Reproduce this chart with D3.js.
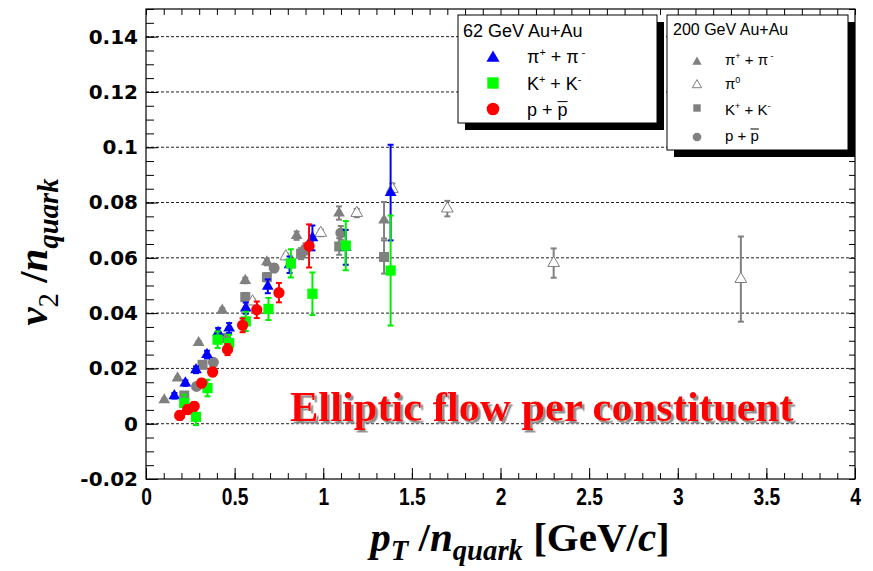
<!DOCTYPE html>
<html><head><meta charset="utf-8">
<script src="https://cdn.jsdelivr.net/npm/d3@7/dist/d3.min.js"></script>
<style>body{margin:0;background:#fff} svg{display:block}</style>
</head><body>
<svg id="c" width="873" height="571"></svg>
<script>
// ---------------- data ----------------
const xTicks = [0, 0.5, 1, 1.5, 2, 2.5, 3, 3.5, 4];
const xTickLabels = ["0", "0.5", "1", "1.5", "2", "2.5", "3", "3.5", "4"];
const yTicks = [-0.02, 0, 0.02, 0.04, 0.06, 0.08, 0.1, 0.12, 0.14];
const yTickLabels = ["-0.02", "0", "0.02", "0.04", "0.06", "0.08", "0.1", "0.12", "0.14"];

// 62 GeV Au+Au
const pi62X = [0.16, 0.222, 0.282, 0.344, 0.407, 0.469, 0.563, 0.687, 0.81, 0.939, 1.127, 1.38];
const pi62Y = [0.0101, 0.0147, 0.0195, 0.025, 0.033, 0.0346, 0.0418, 0.0497, 0.0575, 0.0672, 0.0638, 0.0836];
const pi62E = [0.001, 0.001, 0.0012, 0.0014, 0.0016, 0.0018, 0.002, 0.0025, 0.003, 0.0045, 0.0063, 0.0173];

const k62X = [0.216, 0.282, 0.347, 0.404, 0.469, 0.563, 0.691, 0.817, 0.939, 1.127, 1.38];
const k62Y = [0.0075, 0.0025, 0.0129, 0.0304, 0.0292, 0.037, 0.0415, 0.058, 0.047, 0.0644, 0.0554];
const k62E = [0.003, 0.003, 0.003, 0.003, 0.003, 0.0035, 0.004, 0.0051, 0.0077, 0.0089, 0.0199];

const p62X = [0.19, 0.235, 0.272, 0.314, 0.376, 0.46, 0.545, 0.625, 0.75, 0.92];
const p62Y = [0.003, 0.0051, 0.0063, 0.0147, 0.0187, 0.0268, 0.0356, 0.0412, 0.0474, 0.0643];
const p62E = [0.0015, 0.0015, 0.0015, 0.0015, 0.0015, 0.002, 0.0025, 0.003, 0.0035, 0.0078];

// 200 GeV Au+Au
const pi200X = [0.103, 0.178, 0.297, 0.43, 0.56, 0.682, 0.85, 1.089, 1.343];
const pi200Y = [0.0086, 0.0165, 0.0293, 0.041, 0.0518, 0.0585, 0.068, 0.0762, 0.0736];
const pi200E = [0.0005, 0.0005, 0.0006, 0.0008, 0.001, 0.0012, 0.0015, 0.0024, 0.0066];

const pi0X = [0.601, 0.789, 0.986, 1.189, 1.39, 1.70, 2.30, 3.356];
const pi0Y = [0.0442, 0.0605, 0.069, 0.0762, 0.0849, 0.0778, 0.0581, 0.0523];
const pi0E = [0.001, 0.001, 0.0012, 0.0015, 0.002, 0.0028, 0.0053, 0.0154];

const k200X = [0.216, 0.319, 0.44, 0.56, 0.682, 0.875, 1.09, 1.343];
const k200Y = [0.0102, 0.0213, 0.031, 0.0458, 0.053, 0.0615, 0.0641, 0.0603];
const k200E = [0.001, 0.001, 0.0012, 0.0015, 0.0015, 0.002, 0.003, 0.006];

const p200X = [0.285, 0.38, 0.45, 0.723, 0.9, 1.099];
const p200Y = [0.0135, 0.0222, 0.031, 0.0563, 0.0632, 0.069];
const p200E = [0.001, 0.001, 0.0012, 0.0015, 0.002, 0.0025];

// ---------------- chart ----------------
const svg = d3.select("#c");
const x = d3.scaleLinear().domain([0, 4]).range([146, 855]);
const y = d3.scaleLinear().domain([-0.02, 0.15]).range([479, 9]);
const GRAY = "#808080";

const defs = svg.append("defs");
const flt = defs.append("filter").attr("id", "shadow").attr("x", "-5%").attr("y", "-20%").attr("width", "110%").attr("height", "140%");
flt.append("feDropShadow").attr("dx", 2.5).attr("dy", 2.5).attr("stdDeviation", 0.6)
  .attr("flood-color", "#909090").attr("flood-opacity", 1);

svg.append("rect").attr("width", 873).attr("height", 571).attr("fill", "#fff");

// grid
svg.append("g").selectAll("line").data(yTicks.filter(d => d > -0.02)).join("line")
  .attr("x1", x(0)).attr("x2", x(4))
  .attr("y1", d => y(d)).attr("y2", d => y(d))
  .attr("stroke", "#222").attr("stroke-width", 1).attr("stroke-dasharray", "3,2");

// axes
const yMinor = d3.range(0, 35).map(i => -0.02 + i * 0.005);
const xMinor = d3.range(0, 41).map(i => i * 0.1);

const gyMinor = svg.append("g").attr("transform", `translate(${x(0)},0)`)
  .call(d3.axisLeft(y).tickValues(yMinor).tickSize(-8).tickFormat(""));
const gy = svg.append("g").attr("transform", `translate(${x(0)},0)`)
  .call(d3.axisLeft(y).tickValues(yTicks).tickSize(-12).tickPadding(8)
    .tickFormat((d, i) => yTickLabels[i]));
gy.selectAll("text").attr("font-family", "DejaVu Sans").attr("font-weight", "bold")
  .attr("font-size", 20).attr("fill", "#000");

const gyR = svg.append("g").attr("transform", `translate(${x(4)},0)`)
  .call(d3.axisRight(y).tickValues(yMinor).tickSize(-6).tickFormat(""));

const gxMinor = svg.append("g").attr("transform", `translate(0,${y(-0.02)})`)
  .call(d3.axisBottom(x).tickValues(xMinor).tickSize(-6).tickFormat(""));
const gx = svg.append("g").attr("transform", `translate(0,${y(-0.02)})`)
  .call(d3.axisBottom(x).tickValues(xTicks).tickSize(-11).tickPadding(9)
    .tickFormat((d, i) => xTickLabels[i]));
gx.selectAll("text").attr("font-family", "Liberation Sans").attr("font-weight", "bold")
  .attr("font-size", 24).attr("fill", "#000").attr("transform", "scale(0.8,1)");
const gxT = svg.append("g").attr("transform", `translate(0,${y(0.15)})`)
  .call(d3.axisTop(x).tickValues(xMinor).tickSize(-6).tickFormat(""));

[gyMinor, gy, gyR, gxMinor, gx, gxT].forEach(g => {
  g.select(".domain").remove();
  g.selectAll(".tick line").attr("stroke", "#000").attr("stroke-width", 1);
});

// frame
svg.append("rect").attr("x", x(0)).attr("y", y(0.15))
  .attr("width", x(4) - x(0)).attr("height", y(-0.02) - y(0.15))
  .attr("fill", "none").attr("stroke", "#000").attr("stroke-width", 1.2);

// series drawing
function series(xs, ys, es, o) {
  const data = xs.map((v, i) => ({ x: v, y: ys[i], e: es[i] }));
  const g = svg.append("g");
  const eb = g.append("g").attr("stroke", o.ecolor).attr("stroke-width", 2);
  eb.selectAll("line.v").data(data).join("line").attr("class", "v")
    .attr("x1", d => x(d.x)).attr("x2", d => x(d.x))
    .attr("y1", d => y(d.y - d.e)).attr("y2", d => y(d.y + d.e));
  eb.selectAll("line.t").data(data).join("line").attr("class", "t")
    .attr("x1", d => x(d.x) - 3).attr("x2", d => x(d.x) + 3)
    .attr("y1", d => y(d.y + d.e)).attr("y2", d => y(d.y + d.e));
  eb.selectAll("line.b").data(data).join("line").attr("class", "b")
    .attr("x1", d => x(d.x) - 3).attr("x2", d => x(d.x) + 3)
    .attr("y1", d => y(d.y - d.e)).attr("y2", d => y(d.y - d.e));
  const sym = d3.symbol().type(o.type).size(o.size);
  g.selectAll("path.m").data(data).join("path").attr("class", "m")
    .attr("d", sym)
    .attr("transform", d => `translate(${x(d.x)},${y(d.y)})`)
    .attr("fill", o.fill).attr("stroke", o.stroke || "none").attr("stroke-width", 1);
}

series(pi200X, pi200Y, pi200E, { type: d3.symbolTriangle, size: 60, fill: GRAY, ecolor: GRAY });
series(k200X, k200Y, k200E, { type: d3.symbolSquare, size: 100, fill: GRAY, ecolor: GRAY });
series(p200X, p200Y, p200E, { type: d3.symbolCircle, size: 95, fill: GRAY, ecolor: GRAY });
series(pi0X, pi0Y, pi0E, { type: d3.symbolTriangle, size: 60, fill: "#fff", stroke: GRAY, ecolor: GRAY });
series(pi62X, pi62Y, pi62E, { type: d3.symbolTriangle, size: 60, fill: "#0000ff", ecolor: "#0000ff" });
series(k62X, k62Y, k62E, { type: d3.symbolSquare, size: 105, fill: "#00ff00", ecolor: "#00ee00" });
series(p62X, p62Y, p62E, { type: d3.symbolCircle, size: 100, fill: "#ff0000", ecolor: "#ff0000" });

// rich text helper
function rich(parent, px, py, parts, size, attrs, subShift) {
  const t = parent.append("text").attr("x", px).attr("y", py).attr("font-size", size);
  Object.entries(attrs || {}).forEach(([k, v]) => t.attr(k, v));
  let shift = 0;
  parts.forEach(p => {
    const s = typeof p === "string" ? { t: p } : p;
    const target = s.sup ? -size * 0.4 : s.sub ? size * (subShift || 0.28) : 0;
    const ts = t.append("tspan").text(s.t).attr("dy", target - shift);
    shift = target;
    if (s.sup || s.sub) ts.attr("font-size", size * (s.scale || 0.6));
    if (s.style) ts.attr("font-style", s.style);
    if (s.weight) ts.attr("font-weight", s.weight);
  });
  return t;
}
function overline(t, idx, size) {
  const n = t.node();
  const a = n.getStartPositionOfChar(idx), b = n.getEndPositionOfChar(idx);
  svg.append("line").attr("x1", a.x).attr("x2", b.x)
    .attr("y1", a.y - size * 0.8).attr("y2", a.y - size * 0.8)
    .attr("stroke", "#000").attr("stroke-width", 1);
}

// legend 1
const L1 = { x: 458, y: 15, w: 199, h: 108 };
svg.append("rect").attr("x", L1.x + 7).attr("y", L1.y + 7).attr("width", L1.w).attr("height", L1.h).attr("fill", "#000");
svg.append("rect").attr("x", L1.x).attr("y", L1.y).attr("width", L1.w).attr("height", L1.h)
  .attr("fill", "#fff").attr("stroke", "#000").attr("stroke-width", 1);
const lf = { "font-family": "Liberation Sans", fill: "#000" };
rich(svg, 463, 37, ["62 GeV Au+Au"], 18, lf);
svg.append("path").attr("d", d3.symbol().type(d3.symbolTriangle).size(75)()).attr("transform", "translate(493,58)").attr("fill", "#0000ff");
svg.append("path").attr("d", d3.symbol().type(d3.symbolSquare).size(130)()).attr("transform", "translate(493,83)").attr("fill", "#00ff00");
svg.append("path").attr("d", d3.symbol().type(d3.symbolCircle).size(125)()).attr("transform", "translate(493,109)").attr("fill", "#ff0000");
rich(svg, 527, 63, ["π", { t: "+", sup: 1 }, " + π", { t: " -", sup: 1 }], 18, lf);
rich(svg, 527, 90, ["K", { t: "+", sup: 1 }, " + K", { t: "-", sup: 1 }], 18, lf);
const pp1 = rich(svg, 527, 116, ["p + p"], 18, lf);
overline(pp1, 4, 18);

// legend 2
const L2 = { x: 667, y: 15, w: 181, h: 135 };
svg.append("rect").attr("x", L2.x + 7).attr("y", L2.y + 7).attr("width", L2.w).attr("height", L2.h).attr("fill", "#000");
svg.append("rect").attr("x", L2.x).attr("y", L2.y).attr("width", L2.w).attr("height", L2.h)
  .attr("fill", "#fff").attr("stroke", "#000").attr("stroke-width", 1);
rich(svg, 673, 35, ["200 GeV Au+Au"], 16, lf);
svg.append("path").attr("d", d3.symbol().type(d3.symbolTriangle).size(38)()).attr("transform", "translate(697,62)").attr("fill", GRAY);
svg.append("path").attr("d", d3.symbol().type(d3.symbolTriangle).size(38)()).attr("transform", "translate(697,85)").attr("fill", "#fff").attr("stroke", GRAY);
svg.append("path").attr("d", d3.symbol().type(d3.symbolSquare).size(55)()).attr("transform", "translate(697,108)").attr("fill", GRAY);
svg.append("path").attr("d", d3.symbol().type(d3.symbolCircle).size(60)()).attr("transform", "translate(697,137)").attr("fill", GRAY);
rich(svg, 725, 65, ["π", { t: "+", sup: 1 }, " + π", { t: " -", sup: 1 }], 15, lf);
rich(svg, 725, 89, ["π", { t: "0", sup: 1 }], 15, lf);
rich(svg, 725, 115, ["K", { t: "+", sup: 1 }, " + K", { t: "-", sup: 1 }], 15, lf);
const pp2 = rich(svg, 725, 141, ["p + p"], 15, lf);
overline(pp2, 4, 15);

// annotation (single text with drop shadow)
svg.append("text").attr("x", 290).attr("y", 421).text("Elliptic flow per constituent")
  .attr("font-family", "Liberation Serif").attr("font-weight", "bold").attr("font-size", 42.5)
  .attr("fill", "#ff0000").attr("filter", "url(#shadow)");

// axis titles
const tf = { "font-family": "Liberation Serif", "font-weight": "bold", fill: "#000", "text-anchor": "middle" };
rich(svg, 520, 551, [
  { t: "p", style: "italic" }, { t: "T", sub: 1, style: "italic", scale: 0.7 },
  " /", { t: "n", style: "italic" }, { t: "quark", sub: 1, style: "italic", scale: 0.7 },
  " [GeV/", { t: "c", style: "italic" }, "]"
], 41, tf, 0.22);

const yt = svg.append("g").attr("transform", "translate(47,252) rotate(-90)");
rich(yt, 0, 0, [
  { t: "v", style: "italic" }, { t: "2", sub: 1, weight: "normal", scale: 0.7 },
  " /", { t: "n", style: "italic" }, { t: "quark", sub: 1, style: "italic", scale: 0.7 }
], 41, tf);
</script>
</body></html>
